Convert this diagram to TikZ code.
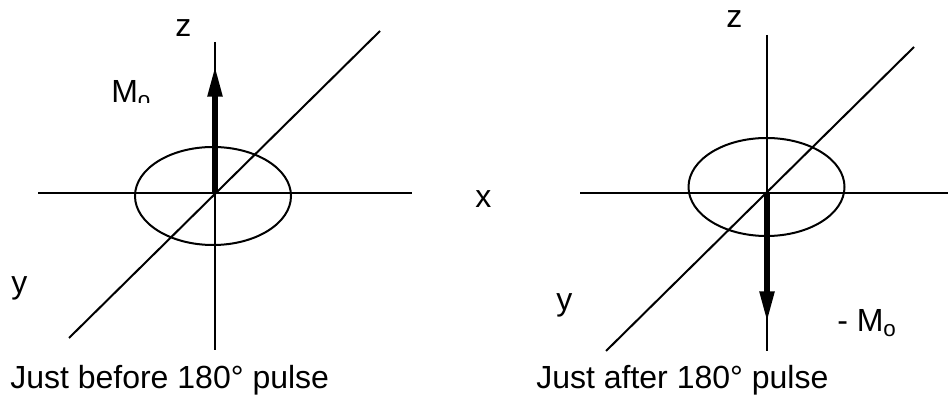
\documentclass[tikz,border=0pt]{standalone}
\usepackage{fontspec}
\setmainfont{Liberation Sans}
\usetikzlibrary{arrows.meta, positioning}
\tikzset{
  axis/.style={line width=1.5pt, color=black},
  zaxis/.style={line width=1.15pt, color=black},
  moment/.style={-{Triangle[length=23pt,width=10.5pt]}, line width=4pt, color=black},
  lab/.style={font=\fontsize{24pt}{26pt}\selectfont, inner sep=0pt, anchor=base west, color=black}
}
\begin{document}
\begin{tikzpicture}[x=0.75pt,y=-0.75pt]
  \useasboundingbox (0,0) rectangle (948,398);
  % Left frame
  \coordinate (lo) at (215,193);
  \coordinate (lw) at (38,193);
  \coordinate (le) at (412,193);
  \coordinate (ln) at (215,42);
  \coordinate (ls) at (215,350);
  \coordinate (lsw) at (69,338);
  \coordinate (lne) at (380,31);
  \coordinate (ltip) at (215,66);
  \coordinate (lc) at (213,196);
  \draw[axis] (lw) -- (le);
  \draw[zaxis] (ln) -- (ls);
  \draw[axis] (lsw) -- (lne);
  \draw[axis] (lc) ellipse (78 and 49);
  \draw[moment] (lo) -- (ltip);
  % Right frame
  \coordinate (ro) at (767,193);
  \coordinate (rw) at (580,193);
  \coordinate (re) at (948,193);
  \coordinate (rn) at (767,35);
  \coordinate (rs) at (767,351);
  \coordinate (rsw) at (606,351);
  \coordinate (rne) at (914,47);
  \coordinate (rtip) at (767,322);
  \coordinate (rc) at (766.5,187);
  \draw[axis] (rw) -- (re);
  \draw[zaxis] (rn) -- (rs);
  \draw[axis] (rsw) -- (rne);
  \draw[axis] (rc) ellipse (78 and 49);
  \draw[moment] (ro) -- (rtip);
  % Labels
  \node[lab] (zl) at (175,37) {z};
  \node[lab] (zr) at (726,28) {z};
  \begin{scope}
    \clip (100,70) rectangle (160,103);
    \node[lab] (ml) at (111,103) {M\textsubscript{o}};
  \end{scope}
  \node[lab] (mr) at (837,332) {- M\textsubscript{o}};
  \node[lab] (xm) at (475,208) {x};
  \node[lab] (yl) at (11,294) {y};
  \node[lab] (yr) at (556,311) {y};
  \node[lab] (capl) at (10,388) {Just before 180° pulse};
  \node[lab] (capr) at (536,388) {Just after 180° pulse};
\end{tikzpicture}
\end{document}
